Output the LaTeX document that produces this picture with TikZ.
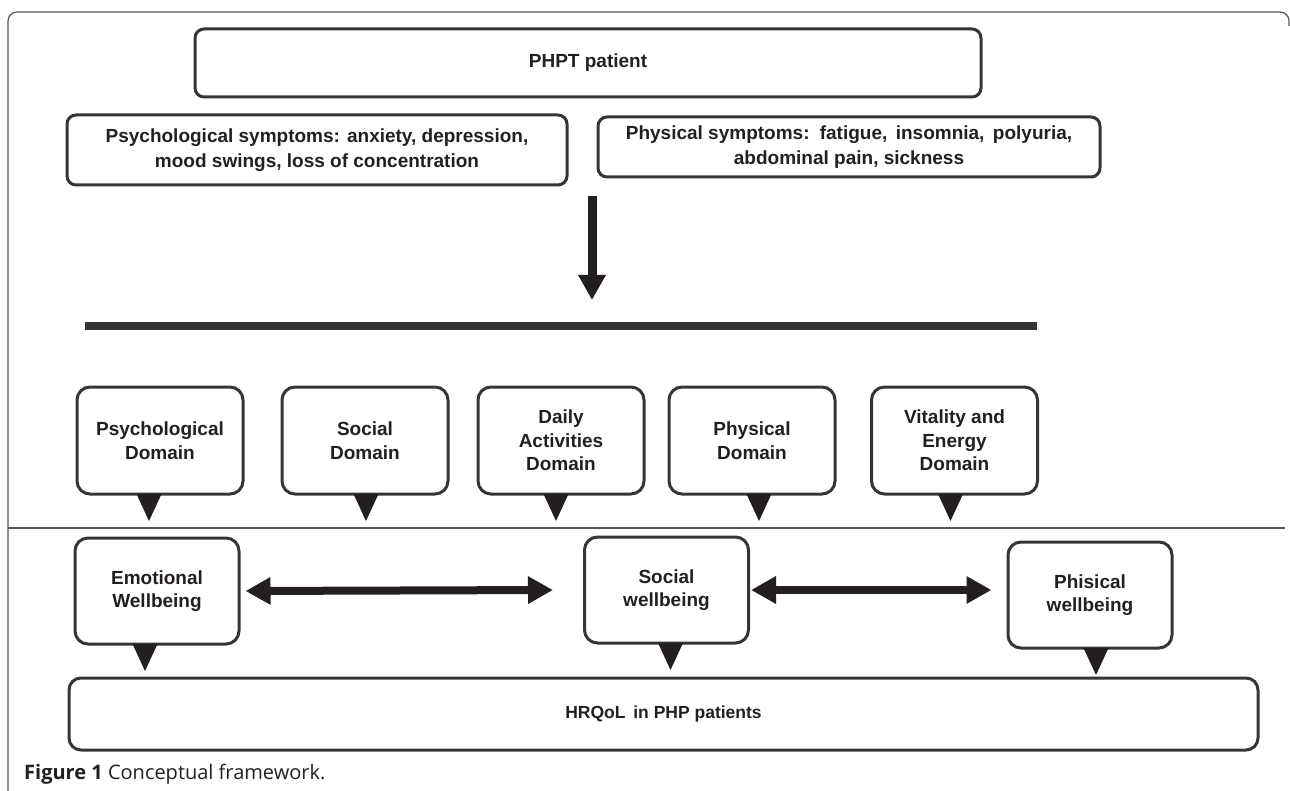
\documentclass[tikz,border=0pt]{standalone}
\usepackage{fontspec}
\setmainfont{Liberation Sans}
\newfontfamily\capfont{Open Sans}
\usepackage{xcolor}
\definecolor{inkColor}{HTML}{231F20}
\definecolor{boxColor}{HTML}{353535}
\definecolor{frameColor}{HTML}{555555}
\usetikzlibrary{positioning, arrows.meta}

\tikzset{
  topbox/.style={draw=boxColor, line width=3pt, rounded corners=9pt, align=center,
    text=inkColor, font=\bfseries\fontsize{19}{25.5}\selectfont},
  domainbox/.style={draw=boxColor, line width=3pt, rounded corners=13pt, align=center,
    text=inkColor, minimum width=166pt, minimum height=107pt,
    font=\bfseries\fontsize{19}{23.5}\selectfont},
  wellbox/.style={domainbox, minimum width=164pt, minimum height=106pt},
  bigarrow/.style={inkColor, line width=9pt, -{Triangle[width=26pt,length=25pt]}},
  dblarrow/.style={inkColor, line width=8pt,
    {Triangle[width=26pt,length=25pt]}-{Triangle[width=26pt,length=25pt]}}
}

\begin{document}
\begin{tikzpicture}[x=1pt, y=-1pt]
  \useasboundingbox (0,0) rectangle (1290,791);
  % frame
  \draw[frameColor, line width=1.2pt, rounded corners=9pt] (8,791) -- (8,12) -- (1289,12) -- (1289,26);

  % patient and symptoms
  \node[topbox, minimum width=786pt, minimum height=68pt] (phpt) at (588,63) {PHPT patient};
  \node[topbox, minimum width=500pt, minimum height=70pt] (psy) at (317,150)
    {Psychological symptoms: anxiety, depression,\\mood swings, loss of concentration};
  \node[topbox, minimum width=502pt, minimum height=60pt] (phy) at (849,147)
    {Physical symptoms:\, fatigue,\, insomnia,\, polyuria,\\abdominal pain, sickness};

  \coordinate (atop) at (592,196);
  \coordinate (atip) at (592,300);
  \draw[bigarrow] (atop) -- (atip);

  \coordinate (barL) at (85,326);
  \coordinate (barR) at (1037,326);
  \draw[boxColor, line width=8pt] (barL) -- (barR);

  % domains
  \node[domainbox] (pd) at (160,440.5) {Psychological\\Domain};
  \node[domainbox] (sd) at (365,440.5) {Social\\Domain};
  \node[domainbox] (dd) at (561,440.5) {Daily\\Activities\\Domain};
  \node[domainbox] (fd) at (752,440.5) {Physical\\Domain};
  \node[domainbox] (vd) at (954.5,440.5) {Vitality and\\Energy\\Domain};

  \coordinate (sepL) at (8,528);
  \coordinate (sepR) at (1285,528);
  \draw[frameColor, line width=1.2pt] (sepL) -- (sepR);

  % wellbeing
  \node[wellbox] (ew) at (157,591) {Emotional\\Wellbeing};
  \node[wellbox] (sw) at (666.5,590) {Social\\wellbeing};
  \node[wellbox] (pw) at (1090,595) {Phisical\\wellbeing};

  \draw[dblarrow] ([xshift=5pt]ew.east) -- ([xshift=-30pt]sw.west);
  \draw[dblarrow] ([xshift=1pt]sw.east) -- ([xshift=-15pt]sw.east -| pw.west);

  \node[domainbox, minimum width=1189pt, minimum height=72pt, rounded corners=12pt,
    font=\bfseries\fontsize{17.5}{20}\selectfont] (hrq) at (663.5,714) {HRQoL\, in PHP patients};

  % pointers under the boxes
  \foreach \n/\dx in {pd/-11,sd/1,dd/-5,fd/7,vd/-4,ew/-12,sw/4,pw/6}
  \fill[inkColor] ([xshift=\dx pt]\n.south) ++(-12.5pt,1.5pt) -- ++(25pt,0) -- ++(-12.5pt,-27pt) -- cycle;

  \node[anchor=west, inner sep=0pt, text=inkColor, font=\capfont\fontsize{20}{23}\selectfont] (cap)
    at (24,774) {\textbf{Figure 1} Conceptual framework.};
\end{tikzpicture}
\end{document}
